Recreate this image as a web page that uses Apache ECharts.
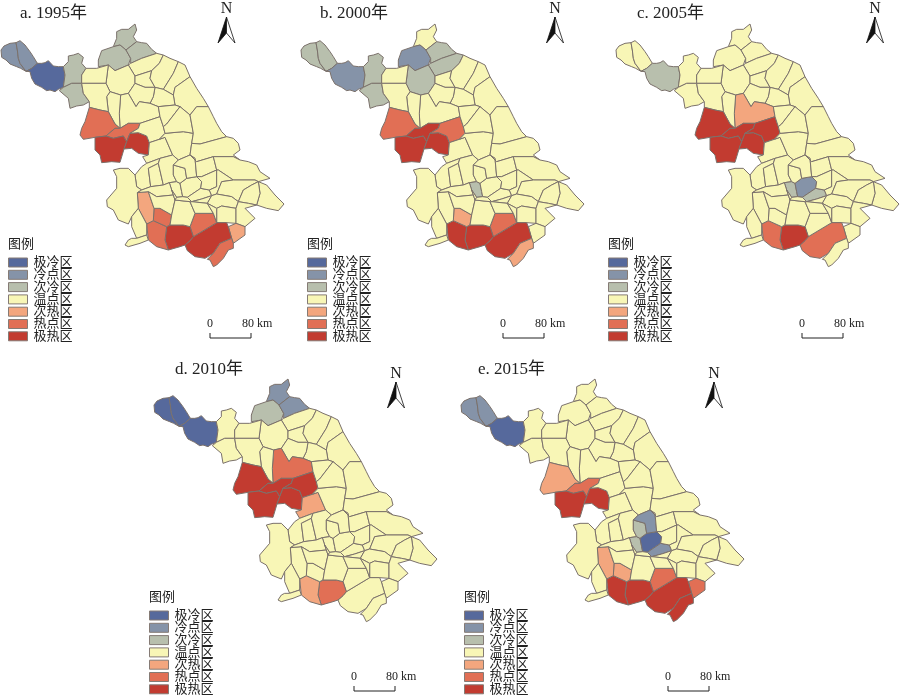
<!DOCTYPE html>
<html lang="zh">
<head>
<meta charset="UTF-8">
<title>Jiangsu</title>
<script src="https://cdn.jsdelivr.net/npm/echarts@6/dist/echarts.min.js"></script>
<style>html,body{margin:0;background:#fff}#main{width:900px;height:699px}</style>
</head>
<body>
<div id="main"></div>
<script>
// legend classes, cold to hot
const classNames = ['极冷区', '冷点区', '次冷区', '温点区', '次热区', '热点区', '极热区'];
const classColors = ['#56699c', '#8593a8', '#b8bfad', '#f8f6b6', '#f3a67e', '#e16f55', '#c23b30'];
const panelTitles = ['a. 1995年', 'b. 2000年', 'c. 2005年', 'd. 2010年', 'e. 2015年'];

// county class per panel, county id -> class (1..7), any other county is class 4
const v1995 = {1:2,2:2,3:1,4:3,5:3,6:3,7:3,8:3,21:6,22:6,23:7,24:7,58:5,57:6,56:6,55:7,54:6,52:7,53:6,51:5};
const v2000 = {1:3,2:3,3:2,4:3,5:3,7:2,8:3,9:3,10:3,21:6,22:7,23:7,24:7,25:6,35:3,57:5,56:7,55:7,54:6,52:7,53:5};
const v2005 = {3:3,17:5,21:7,22:7,23:7,24:7,25:7,35:3,36:2,37:3,56:6,55:7,52:6};
const v2010 = {1:1,2:1,3:1,6:2,8:2,7:3,17:6,21:7,22:7,23:7,24:7,25:7,26:5,56:5,55:6};
const v2015 = {1:2,2:2,3:1,21:5,22:6,23:7,24:7,35:3,36:1,37:2,38:3,39:2,51:6,52:7,53:7,54:6,55:7,56:7,57:5,58:5};
const panelValues = [v1995, v2000, v2005, v2010, v2015];

// county outlines, in 3x pixels
const counties = {
  1: [[3,150],[12,138],[30,130],[48,128],[52,150],[55,175],[60,190],[78,214],[62,205],[50,200],[30,192],[18,180],[5,172]],
  2: [[48,128],[60,122],[75,135],[90,155],[100,170],[112,190],[95,205],[78,214],[60,190],[55,175],[52,150]],
  3: [[78,214],[95,205],[112,190],[125,190],[135,188],[145,182],[160,198],[175,200],[190,200],[195,225],[190,262],[175,268],[165,275],[150,270],[140,272],[125,262],[105,252],[95,235],[90,215]],
  4: [[190,200],[205,185],[205,168],[220,165],[235,160],[250,172],[245,190],[258,205],[245,225],[245,250],[215,250],[190,262],[195,225]],
  5: [[178,272],[190,262],[215,250],[245,250],[250,280],[268,305],[250,315],[230,318],[210,325],[205,295]],
  6: [[340,140],[350,115],[350,95],[365,88],[385,88],[405,72],[410,90],[400,110],[410,125],[378,150],[360,135]],
  7: [[295,180],[305,152],[340,140],[360,135],[378,150],[392,175],[385,195],[345,212],[325,195],[295,200]],
  8: [[378,150],[410,125],[425,128],[440,130],[455,148],[470,160],[425,175],[392,190],[392,175]],
  9: [[392,190],[425,175],[470,160],[490,165],[478,190],[455,212],[405,228],[385,195]],
  10: [[325,195],[345,212],[385,195],[405,228],[405,250],[385,280],[362,285],[330,275],[318,250]],
  11: [[405,228],[455,212],[450,235],[465,262],[435,262],[405,250]],
  12: [[490,165],[510,175],[535,185],[520,220],[490,268],[465,262],[450,235],[455,212],[478,190]],
  13: [[535,185],[555,195],[570,230],[525,262],[520,285],[490,268],[520,220]],
  14: [[570,230],[590,265],[610,295],[625,320],[590,320],[570,345],[540,320],[525,315],[520,285],[525,262]],
  15: [[465,262],[490,268],[520,285],[525,315],[475,320],[450,310],[460,290]],
  16: [[405,250],[435,262],[465,262],[460,290],[450,310],[418,305],[408,320],[385,280]],
  17: [[362,285],[385,280],[408,320],[418,305],[450,310],[475,320],[480,350],[420,370],[385,370],[360,385],[358,340]],
  18: [[330,275],[362,285],[358,340],[360,385],[345,372],[325,335],[320,290]],
  19: [[245,225],[258,205],[290,205],[325,195],[318,250],[245,250]],
  20: [[245,250],[318,250],[330,275],[320,290],[325,335],[300,330],[268,322],[268,305],[250,280]],
  21: [[245,385],[255,365],[268,322],[300,330],[325,335],[345,372],[360,385],[345,385],[318,408],[285,412],[250,418],[240,405]],
  22: [[318,408],[345,385],[360,385],[385,370],[420,370],[415,385],[390,400],[380,425],[370,408],[340,415]],
  23: [[285,412],[318,408],[340,415],[370,408],[380,425],[372,447],[360,487],[335,485],[305,488],[300,465],[285,450]],
  24: [[380,425],[390,400],[415,398],[440,408],[448,428],[445,465],[415,460],[395,445],[372,447]],
  25: [[415,385],[420,370],[480,350],[490,380],[495,400],[478,418],[448,428],[440,408],[415,398],[390,400]],
  26: [[448,428],[478,418],[495,412],[518,465],[480,475],[440,490],[428,470],[445,465]],
  27: [[495,400],[550,395],[580,400],[575,430],[570,465],[535,480],[518,465],[495,412],[478,418]],
  28: [[475,320],[525,315],[540,320],[500,372],[490,380],[480,350]],
  29: [[500,372],[540,320],[570,345],[580,400],[550,395],[495,400],[490,380]],
  30: [[590,320],[625,320],[640,350],[650,370],[665,395],[680,410],[600,432],[575,430],[580,400],[570,345]],
  31: [[575,430],[600,432],[680,410],[700,415],[715,430],[720,450],[700,465],[720,480],[700,470],[640,470],[590,485],[570,465]],
  32: [[440,490],[480,475],[475,490],[445,505],[452,560],[425,570],[410,560],[405,525],[425,500]],
  33: [[445,505],[475,490],[490,555],[452,560]],
  34: [[480,475],[518,465],[535,480],[520,495],[520,525],[530,545],[508,548],[490,555],[475,490]],
  35: [[508,548],[530,545],[540,550],[545,575],[548,590],[530,592],[515,570]],
  36: [[540,550],[560,535],[590,530],[605,545],[602,565],[562,592],[548,590],[545,575]],
  37: [[562,592],[602,565],[628,570],[635,587],[605,597],[575,605]],
  38: [[520,495],[555,505],[560,535],[540,550],[530,545],[520,525]],
  39: [[520,495],[535,480],[570,465],[585,475],[590,530],[560,535],[555,505]],
  40: [[570,465],[590,485],[640,470],[650,510],[605,530],[590,530],[585,475]],
  41: [[590,530],[605,530],[650,510],[650,560],[628,570],[602,565],[605,545]],
  42: [[640,470],[700,470],[720,480],[745,485],[770,495],[780,515],[795,525],[810,535],[775,545],[765,540],[700,540],[655,510],[650,510]],
  43: [[650,510],[655,510],[700,540],[665,545],[650,582],[635,587],[628,570],[650,560]],
  44: [[665,545],[700,540],[765,540],[775,545],[755,555],[730,570],[715,605],[695,590],[650,582]],
  45: [[775,545],[800,555],[825,585],[852,612],[835,632],[800,625],[770,615],[780,580]],
  46: [[755,555],[775,545],[780,580],[770,615],[745,610],[715,605],[730,570]],
  47: [[575,605],[605,597],[635,587],[622,610]],
  48: [[635,587],[650,582],[695,590],[715,605],[708,625],[665,618],[650,625],[622,610]],
  49: [[650,625],[665,618],[708,625],[708,670],[680,668],[650,668]],
  50: [[715,605],[745,610],[770,615],[735,625],[765,655],[735,680],[708,670],[708,625]],
  51: [[685,680],[708,670],[735,680],[735,705],[700,730],[695,715]],
  52: [[555,735],[570,722],[580,710],[650,668],[680,668],[685,680],[695,715],[660,730],[640,760],[615,775],[585,770],[562,752]],
  53: [[660,730],[695,715],[700,730],[700,745],[685,750],[670,775],[650,795],[640,800],[630,780],[622,778],[640,760]],
  54: [[570,680],[585,640],[640,640],[650,668],[580,710]],
  55: [[500,680],[510,675],[550,675],[570,680],[580,710],[570,722],[555,735],[540,740],[505,750],[495,720]],
  56: [[440,672],[460,662],[500,680],[495,720],[505,750],[470,740],[445,720]],
  57: [[462,625],[480,625],[515,645],[510,675],[500,680],[460,662]],
  58: [[412,578],[445,575],[462,625],[460,662],[440,672],[415,625]],
  59: [[340,510],[360,505],[385,505],[405,525],[410,560],[425,570],[412,578],[415,625],[395,650],[385,672],[355,660],[340,630],[322,620],[320,600],[350,565],[350,530]],
  60: [[395,650],[415,625],[440,672],[440,705],[410,715],[395,680]],
  61: [[375,735],[385,720],[395,715],[410,715],[440,705],[445,720],[420,730],[385,740]],
  62: [[425,570],[452,560],[490,555],[508,548],[515,570],[520,585],[470,590],[445,575],[412,578]],
  63: [[445,575],[470,590],[520,585],[525,600],[515,645],[480,625],[462,625]],
  64: [[525,600],[570,605],[585,640],[570,680],[550,675],[510,675],[515,645]],
  65: [[570,605],[575,605],[622,610],[640,640],[585,640]],
  66: [[622,610],[650,625],[650,668],[640,640]],
  67: [[515,570],[530,592],[525,600],[520,585]],
  68: [[530,592],[548,590],[562,592],[575,605],[570,605],[525,600]]
};

// where things sit in each panel: map shift, legend, scale bar, north arrow
const mapShift = [[0, 0], [300, 0], [615, 0], [153, 355], [460, 355]];
const titlePos = [[20, 5], [320, 5], [637, 5], [175, 361], [478, 361]];
const legendPos = [[8, 245], [307, 245], [608, 245], [149, 598], [464, 598]];
const scalePos = [[210, 338], [503, 338], [802, 338], [354, 691], [668, 691]];
const northPos = [[226.5, 9], [555, 9], [875, 9], [396, 374], [714, 374]];

const serif = '"Liberation Serif","Noto Sans CJK SC",serif';
const ink = '#222';

const geoJson = {
  type: 'FeatureCollection',
  features: Object.keys(counties).map(function (id) {
    const ring = counties[id].map(function (p) { return [p[0], -p[1]]; });
    ring.push(ring[0]);
    return { type: 'Feature', properties: { name: id }, geometry: { type: 'Polygon', coordinates: [ring] } };
  })
};

const allPts = [].concat.apply([], Object.values(counties));
const minX = Math.min.apply(null, allPts.map(function (p) { return p[0]; }));
const maxX = Math.max.apply(null, allPts.map(function (p) { return p[0]; }));
const minY = Math.min.apply(null, allPts.map(function (p) { return p[1]; }));
const maxY = Math.max.apply(null, allPts.map(function (p) { return p[1]; }));

var series = [], titles = [], legends = [], graphics = [];

panelValues.forEach(function (vals, i) {
  // each panel needs its own map name, same name would share one coordinate system
  const mapName = 'js' + i;
  echarts.registerMap(mapName, geoJson);
  series.push({
    type: 'map',
    map: mapName,
    aspectScale: 1,
    left: mapShift[i][0] + minX / 3,
    top: mapShift[i][1] + minY / 3,
    width: (maxX - minX) / 3,
    height: (maxY - minY) / 3,
    silent: true,
    selectedMode: false,
    showLegendSymbol: false,
    label: { show: false },
    itemStyle: { borderColor: '#7b716b', borderWidth: 1, areaColor: classColors[3] },
    data: Object.keys(counties).map(function (id) {
      const v = vals[id] || 4;
      return { name: id, value: v, itemStyle: { areaColor: classColors[v - 1] } };
    })
  });

  titles.push({
    text: panelTitles[i], left: titlePos[i][0], top: titlePos[i][1], padding: 0,
    textStyle: { fontFamily: serif, fontSize: 17, fontWeight: 'normal', color: ink }
  });
  titles.push({
    text: '图例', left: legendPos[i][0], top: legendPos[i][1] - 7, padding: 0,
    textStyle: { fontFamily: serif, fontSize: 13, fontWeight: 'normal', color: ink }
  });

  legends.push({
    orient: 'vertical',
    left: legendPos[i][0],
    top: legendPos[i][1] + 11,
    padding: 0,
    height: 120,
    itemWidth: 19,
    itemHeight: 9,
    itemGap: -0.7,
    selectedMode: false,
    icon: 'rect',
    itemStyle: { borderColor: '#857b75', borderWidth: 1 },
    textStyle: { fontFamily: serif, fontSize: 13, lineHeight: 11, color: ink, padding: [0, 0, 0, 1] },
    data: classNames
  });

  const sx = scalePos[i][0], sy = scalePos[i][1];
  graphics.push({
    type: 'polyline', silent: true,
    shape: { points: [[sx, sy - 5], [sx, sy], [sx + 41, sy], [sx + 41, sy - 5]] },
    style: { stroke: ink, lineWidth: 1, fill: null }
  });
  graphics.push({ type: 'text', silent: true, x: sx, y: sy - 14,
    style: { text: '0', font: '12px ' + serif, fill: ink, align: 'center', verticalAlign: 'middle' } });
  graphics.push({ type: 'text', silent: true, x: sx + 32, y: sy - 14,
    style: { text: '80 km', font: '12px ' + serif, fill: ink, align: 'left', verticalAlign: 'middle' } });

  const nx = northPos[i][0], ny = northPos[i][1];
  graphics.push({ type: 'text', silent: true, x: nx, y: ny,
    style: { text: 'N', font: '16px ' + serif, fill: ink, align: 'center', verticalAlign: 'middle' } });
  graphics.push({ type: 'polygon', silent: true,
    shape: { points: [[nx, ny + 8], [nx - 8.5, ny + 34], [nx, ny + 24]] },
    style: { fill: '#111', stroke: '#111', lineWidth: 0.8 } });
  graphics.push({ type: 'polygon', silent: true,
    shape: { points: [[nx, ny + 8], [nx + 8.5, ny + 34], [nx, ny + 24]] },
    style: { fill: '#fff', stroke: '#111', lineWidth: 0.8 } });
});

// empty series, they only give the legends their seven classes
classNames.forEach(function (name, k) {
  series.push({
    type: 'custom', name: name, coordinateSystem: 'none', data: [],
    itemStyle: { color: classColors[k] },
    renderItem: function () { return null; }
  });
});

var myChart = echarts.init(document.getElementById('main'));
myChart.setOption({
  backgroundColor: '#fff',
  animation: false,
  title: titles,
  legend: legends,
  graphic: graphics,
  series: series
});
</script>
</body>
</html>
